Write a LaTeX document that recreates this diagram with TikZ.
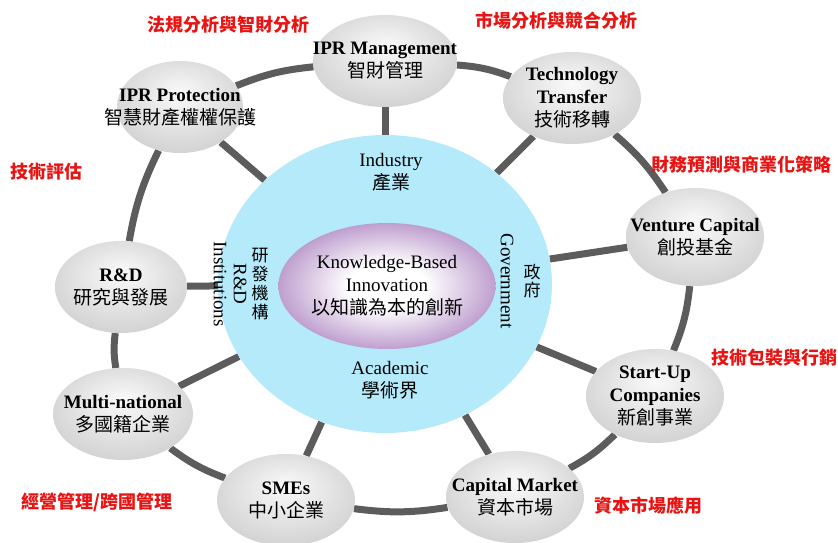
\documentclass[tikz,border=0pt]{standalone}
\usepackage{fontspec}
\setmainfont{Liberation Serif}
\newfontfamily\cjk{Noto Sans CJK TC}
\usetikzlibrary{shapes.geometric,backgrounds}

\definecolor{ringgray}{RGB}{92,92,92}
\definecolor{corecyan}{RGB}{180,234,250}
\definecolor{knowpurple}{RGB}{135,75,165}
\definecolor{notered}{RGB}{232,20,20}
\newcommand{\zhtext}[1]{{\cjk\mdseries #1}}
\pgfdeclareradialshading{knowshade}{\pgfpoint{0bp}{0bp}}{color(0bp)=(white); color(9bp)=(white); color(24bp)=(knowpurple!50); color(37bp)=(knowpurple); color(50bp)=(knowpurple)}
\pgfdeclareradialshading{hubshade}{\pgfpoint{0bp}{8bp}}{color(0bp)=(gray!4); color(50bp)=(gray!58)}

\begin{document}
\begin{tikzpicture}[x=1pt, y=1pt,
  hub/.style={ellipse, minimum width=138pt, minimum height=92pt, inner sep=0pt, shading=hubshade},
  hubtext/.style={align=center, inner sep=0pt, font=\fontsize{19}{23}\selectfont\bfseries},
  link/.style={draw=ringgray, line width=7pt},
  note/.style={text=notered, inner sep=0pt, font=\cjk\bfseries\fontsize{18}{20}\selectfont},
  ring/.style={align=center, inner sep=0pt, font=\fontsize{19}{23}\selectfont}]
  \useasboundingbox (0,0) rectangle (838,542);

  % centre
  \node[ellipse, fill=corecyan, minimum width=334pt, minimum height=298pt] (core) at (385,258) {};
  \node[ellipse, shading=knowshade, minimum width=217pt, minimum height=126pt,
        label={[ring]center:{Knowledge-Based\\Innovation\\\zhtext{以知識為本的創新}}}] (know) at (387,256) {};
  \node[ring] (industry) at (391,370) {Industry\\\zhtext{產業}};
  \node[ring] (academic) at (390,162) {Academic\\\zhtext{學術界}};
  \node[ring, rotate=-90, font=\fontsize{19}{20}\selectfont] (inst) at (230,258) {R\&D\\Institutions};
  \node[ring, font=\cjk\fontsize{17}{18.8}\selectfont] (yanfa) at (260,258) {研\\發\\機\\構};
  \node[ring, rotate=-90] (gov) at (507,261) {Government};
  \node[ring, font=\cjk\fontsize{17}{18.8}\selectfont] (zhengfu) at (532,261) {政\\府};

  % outer ring
  \node[hub, minimum width=144pt, label={[hubtext]center:{IPR Management\\\zhtext{智財管理}}}] (mgmt) at (385,481) {};
  \node[hub, label={[hubtext]center:{Technology\\Transfer\\\zhtext{技術移轉}}}] (tech) at (572,444) {};
  \node[hub, minimum height=98pt, label={[hubtext]center:{Venture Capital\\\zhtext{創投基金}}}] (vc) at (695,305) {};
  \node[hub, minimum height=94pt, label={[hubtext]center:{Start-Up\\Companies\\\zhtext{新創事業}}}] (startup) at (655,146) {};
  \node[hub, label={[hubtext]center:{Capital Market\\\zhtext{資本市場}}}] (capital) at (515,45) {};
  \node[hub, label={[hubtext]center:{SMEs\\\zhtext{中小企業}}}] (smes) at (286,42) {};
  \node[hub, minimum width=140pt, label={[hubtext]center:{Multi-national\\\zhtext{多國籍企業}}}] (multi) at (123,128) {};
  \node[hub, minimum width=132pt, label={[hubtext]center:{R\&D\\\zhtext{研究與發展}}}] (rnd) at (121,255) {};
  \node[hub, minimum width=126pt, label={[hubtext]center:{IPR Protection\\\zhtext{智慧財產權權保護}}}] (prot) at (180,435) {};

  \begin{scope}[on background layer]
    \foreach \a/\b in {mgmt/tech, tech/vc, vc/startup, startup/capital, capital/smes, smes/multi, multi/rnd, rnd/prot, prot/mgmt}
      \draw[link] (\a) to[bend left=8] (\b);
    \foreach \n in {mgmt, tech, vc, startup, capital, smes, multi, rnd, prot}
      \draw[link] (core) -- (\n);
  \end{scope}

  % notes
  \node[note] (lawnote) at (228,517) {法規分析與智財分析};
  \node[note] (marketnote) at (556,521) {市場分析與競合分析};
  \node[note] (evalnote) at (46,370) {技術評估};
  \node[note] (financenote) at (741,377) {財務預測與商業化策略};
  \node[note] (packnote) at (774,184) {技術包裝與行銷};
  \node[note] (managenote) at (97,40) {經營管理/跨國管理};
  \node[note] (capnote) at (648,36) {資本市場應用};
\end{tikzpicture}
\end{document}
